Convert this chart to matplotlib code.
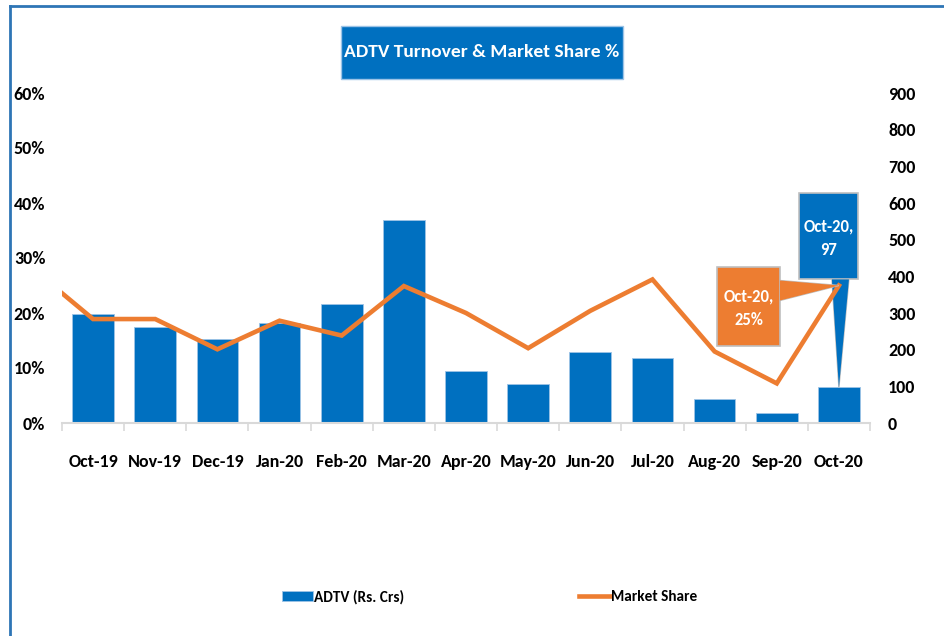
#!/usr/bin/env python
# -*- coding: utf-8 -*-

import matplotlib
matplotlib.use("Agg")
import matplotlib.pyplot as plt
import matplotlib.lines as mlines
import matplotlib.patches as mpatches
import matplotlib.ticker as mticker
import matplotlib.transforms as mtransforms
import numpy as np

months      = ["Oct-19", "Nov-19", "Dec-19", "Jan-20", "Feb-20", "Mar-20", "Apr-20",
               "May-20", "Jun-20", "Jul-20", "Aug-20", "Sep-20", "Oct-20"]
adtv        = [297, 262, 230, 272, 325, 553, 142, 107, 194, 178, 65, 27, 97]
share       = [18.9, 18.9, 13.4, 18.6, 15.9, 24.9, 20.0, 13.6, 20.4, 26.1, 13.0, 7.2, 25.0]
share_lead  = 23.6   # line enters from the left edge of the plot

BLUE   = "#0070C0"
ORANGE = "#ED7D31"
FONT   = ["Carlito", "Archivo Narrow", "DejaVu Sans"]
W, H   = 944, 636

plt.rcParams['font.family'] = FONT
plt.rcParams['font.weight'] = 'bold'

fig = plt.figure(figsize = (W/100, H/100), dpi = 100)
ax  = fig.add_axes([62/W, 1 - 423/H, 808/W, 330/H])
ax2 = ax.twinx()

x = np.arange(len(months))

# Bars on the right axis...
ax2.bar(x, adtv, width = 0.67, color = BLUE, edgecolor = "#9DC3E6", linewidth = 0.6,
        label = "ADTV (Rs. Crs)", zorder = 2)
ax2.set_ylim(0, 900)
ax2.yaxis.set_major_locator(mticker.MultipleLocator(100))

# Line on the left axis...
xs = np.concatenate([[-0.5], x])
ys = np.concatenate([[share_lead], share]) / 100
line, = ax.plot(xs, ys, color = ORANGE, lw = 3.3, solid_joinstyle = 'miter',
                label = "Market Share", zorder = 3)
ax.set_ylim(0, 0.6)
ax.yaxis.set_major_locator(mticker.MultipleLocator(0.1))
ax.yaxis.set_major_formatter(mticker.FuncFormatter(lambda v, p: f"{v*100:.0f}%"))
ax.set_zorder(ax2.get_zorder() + 1)
ax.patch.set_visible(False)

ax.set_xlim(-0.5, len(months) - 0.5)
ax.set_xticks(x)
ax.set_xticklabels(months)
ax.set_xticks(np.arange(len(months) + 1) - 0.5, minor = True)

for a in (ax, ax2):
    for s in a.spines.values(): s.set_visible(False)
ax.spines['bottom'].set_visible(True)
ax.spines['bottom'].set_color("#D9D9D9")
ax.spines['bottom'].set_linewidth(1.5)

ax.tick_params(axis = 'x', which = 'major', length = 0, pad = 22, labelsize = 13)
ax.tick_params(axis = 'x', which = 'minor', length = 6, color = "#D9D9D9", width = 1.2)
ax.tick_params(axis = 'y', length = 0, pad = 12, labelsize = 13)
ax2.tick_params(axis = 'y', length = 0, pad = 13, labelsize = 13)


def callout(a, xy, label, color, center, size, base):
    """Box with a wedge pointing at xy; center / size / base are pixel offsets."""
    px, py = a.transData.transform(xy)
    cx, cy = px + center[0], py + center[1]
    w, h = size
    ident = mtransforms.IdentityTransform()
    (bx0, by0), (bx1, by1) = [(cx + u, cy + v) for u, v in base]
    wedge = mpatches.Polygon([(bx0, by0), (px, py), (bx1, by1)], closed = True,
                             fc = color, ec = "#BFBFBF", lw = 1, transform = ident,
                             clip_on = False, zorder = 6)
    box = mpatches.Rectangle((cx - w/2, cy - h/2), w, h, fc = color, ec = "#BFBFBF", lw = 1.2,
                             transform = ident, clip_on = False, zorder = 6)
    cover = mpatches.Polygon([(bx0, by0), (px, py), (bx1, by1)], closed = True,
                             fc = color, ec = 'none', transform = ident, clip_on = False,
                             zorder = 7)
    for p in (wedge, box, cover):
        a.add_patch(p)
    a.text(cx, cy - 2, label, transform = ident, ha = 'center', va = 'center',
           color = 'white', fontsize = 12, linespacing = 1.55, zorder = 8)


# Callouts for the last month...
last = len(months) - 1
callout(ax, (x[last], share[last]/100), f"{months[last]},\n{share[last]:.0f}%", ORANGE,
        center = (-90, -21), size = (63, 79), base = [(31, 26), (31, 6)])
callout(ax2, (x[last], adtv[last]), f"{months[last]},\n{adtv[last]}", BLUE,
        center = (-10, 151), size = (59, 86), base = [(3, -43), (20, -43)])

# Title box...
fig.add_artist(mpatches.Rectangle((341/W, 1 - 79/H), 282/W, 53/H, fc = BLUE, ec = "#9DC3E6",
                                  lw = 1, transform = fig.transFigure))
fig.text(482/W, 1 - 52/H, "ADTV Turnover & Market Share %", ha = 'center', va = 'center',
         color = 'white', fontsize = 14)

# Legend, one entry at a time so each sits where the reference has it...
for h, lab, x0 in [(ax2.patches[0], "ADTV (Rs. Crs)", 282), (line, "Market Share", 579)]:
    fig.legend([h], [lab], loc = 'center left', bbox_to_anchor = (x0/W, 1 - 597/H),
               frameon = False, fontsize = 11, handlelength = 2.0, handletextpad = 0.1,
               borderpad = 0, borderaxespad = 0)

# Outer frame, only the left and top edges show...
fig.add_artist(mlines.Line2D([10/W, 10/W], [0, 1 - 6/H], color = "#2E75B6", lw = 2,
                             transform = fig.transFigure))
fig.add_artist(mlines.Line2D([10/W, 1], [1 - 6/H, 1 - 6/H], color = "#2E75B6", lw = 2,
                             transform = fig.transFigure))

fig.savefig("out.png", dpi = 100, facecolor = 'white')
plt.close('all')
